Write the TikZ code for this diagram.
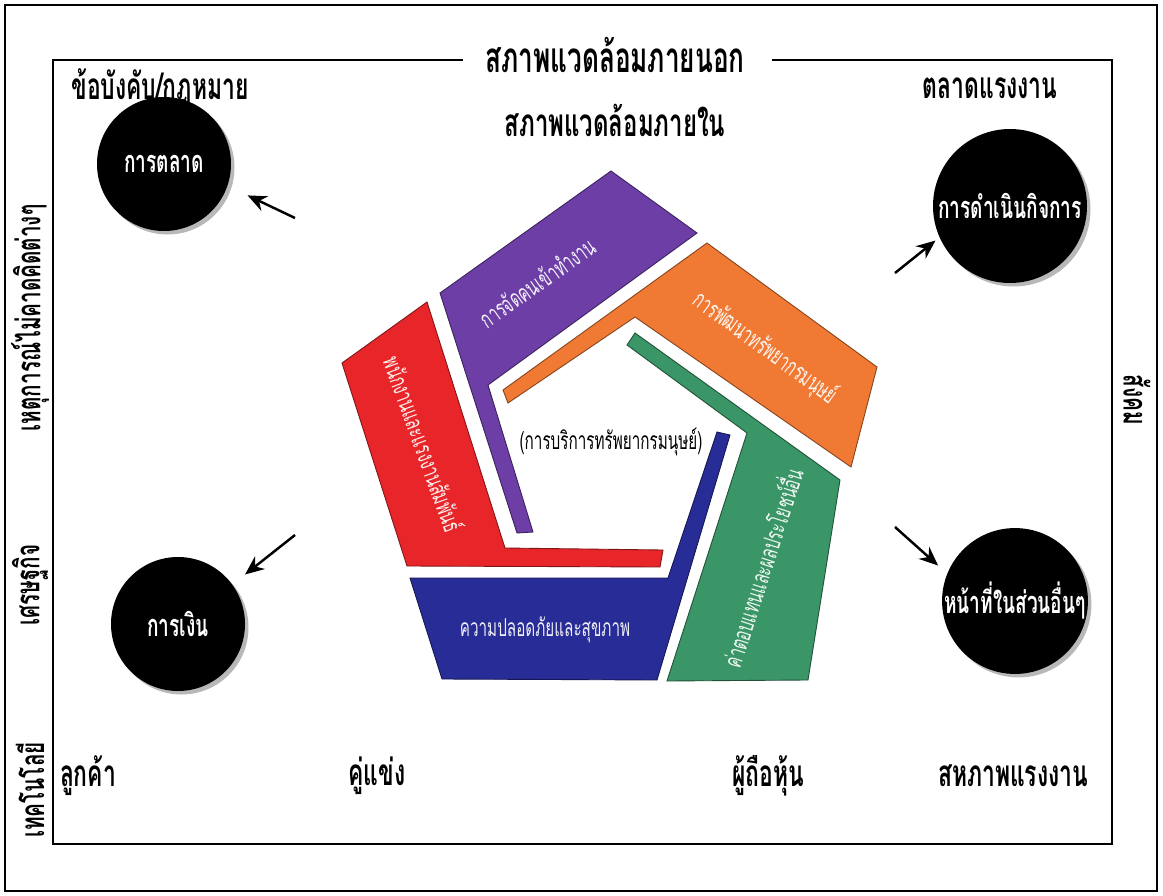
\documentclass[tikz,border=0pt]{standalone}
\usepackage{fontspec}
\newfontfamily\thaicond[Script=Thai,FakeStretch=0.72]{Loma}
\newfontfamily\thainarrow[Script=Thai,FakeStretch=0.62]{Loma}
\usetikzlibrary{positioning,arrows.meta,shadows}

\definecolor{bandpurple}{RGB}{108,62,166}
\definecolor{bandorange}{RGB}{240,122,52}
\definecolor{bandred}{RGB}{232,38,42}
\definecolor{bandblue}{RGB}{40,44,150}
\definecolor{bandgreen}{RGB}{58,150,102}

\newcommand\lblfont{\thainarrow\bfseries\fontsize{21}{24}\selectfont}
\newcommand\discfont{\thainarrow\bfseries\fontsize{17.5}{20}\selectfont}
\newcommand\bandfont{\thainarrow\fontsize{14}{16}\selectfont}

\begin{document}
\begin{tikzpicture}[x=0.2mm,y=-0.2mm,>={Stealth[length=3.8mm,width=3.2mm]},
  lbl/.style={inner sep=1pt,font=\lblfont},
  sidelbl/.style={inner sep=1pt,font=\thainarrow\bfseries\fontsize{19}{22}\selectfont},
  title/.style={inner sep=1pt,font=\thainarrow\bfseries\fontsize{#1}{26}\selectfont},
  disc/.style={circle,fill=black,text=white,inner sep=0pt,minimum size=#1*0.2mm,
    font=\discfont,drop shadow={shadow xshift=0.7mm,shadow yshift=-0.7mm,fill=black!28,opacity=1}},
  band/.style={fill=#1,draw=#1!55!black,line width=0.5pt},
  bandtxt/.style={text=white!92!#1,inner sep=0pt,font=\bandfont},
  pointer/.style={->,line width=1.4pt}]
  \useasboundingbox (0,0) rectangle (1163,896);
  \fill[white] (0,0) rectangle (1163,896);

  % frames
  \draw[line width=1pt] (5,5) rectangle (1157,891);
  \node[title=24] (ext) at (615,55) {สภาพแวดล้อมภายนอก};
  \draw[line width=1.6pt] ([xshift=-4mm]ext.west |- 0,60) -- (53,60) -- (53,844)
    -- (1112,844) -- (1112,60) -- ([xshift=5mm]ext.east |- 0,60);
  \node[title=22,below=5.5mm of ext] (int) {สภาพแวดล้อมภายใน};

  % outside labels
  \node[lbl] (law) at (160,88) {ข้อบังคับ/กฎหมาย};
  \node[lbl] (lab) at (990,88) {ตลาดแรงงาน};
  \node[sidelbl,rotate=90] (unx) at (30,318) {เหตุการณ์ไม่คาดคิดต่างๆ};
  \node[sidelbl,rotate=90] (eco) at (30,585) {เศรษฐกิจ};
  \node[sidelbl,rotate=90] (tec) at (30,790) {เทคโนโลยี};
  \node[sidelbl,rotate=-90] (soc) at (1137,400) {สังคม};
  \node[lbl] (cus) at (88,776) {ลูกค้า};
  \node[lbl] (com) at (377,776) {คู่แข่ง};
  \node[lbl] (shr) at (768,776) {ผู้ถือหุ้น};
  \node[lbl] (uni) at (1013,776) {สหภาพแรงงาน};

  % functions
  \node[disc=134] (mkt) at (164,164) {การตลาด};
  \node[disc=134] (fin) at (178,624) {การเงิน};
  \node[disc=154] (ops) at (1010,206) {การดำเนินกิจการ};
  \node[disc=142] (oth) at (1015,601) {หน้าที่ในส่วนอื่นๆ};

  % pentagon
  \filldraw[band=bandpurple] (440,293) -- (611,171) -- (697,233) -- (488,385)
    -- (533,532) -- (517,533) -- cycle;
  \filldraw[band=bandorange] (707,243) -- (877,367) -- (851,467) -- (635,317)
    -- (508,403) -- (503,390) -- cycle;
  \filldraw[band=bandgreen] (635,333) -- (840,480) -- (808,680) -- (667,681)
    -- (747,433) -- (627,345) -- cycle;
  \filldraw[band=bandblue] (410,578) -- (668,578) -- (717,432) -- (730,435)
    -- (657,680) -- (442,679) -- cycle;
  \filldraw[band=bandred] (342,363) -- (427,302) -- (505,548) -- (663,550)
    -- (660,567) -- (407,566) -- cycle;
  \node[bandtxt=bandpurple,rotate=35] (hire) at (537,282) {การจัดคนเข้าทำงาน};
  \node[bandtxt=bandorange,rotate=-36] (dev) at (765,348) {การพัฒนาทรัพยากรมนุษย์};
  \node[bandtxt=bandred,rotate=-70] (rel) at (424,444) {พนักงานและแรงงานสัมพันธ์};
  \node[bandtxt=bandblue] (saf) at (545,630) {ความปลอดภัยและสุขภาพ};
  \node[bandtxt=bandgreen,rotate=72] (pay) at (760,567) {ค่าตอบแทนและผลประโยชน์อื่น};
  \node[font=\thainarrow\fontsize{14}{16}\selectfont] (hrs) at (611,442) {(การบริการทรัพยากรมนุษย์)};

  % pointers
  \coordinate (mkt-t) at (295,218);
  \coordinate (fin-t) at (295,535);
  \coordinate (ops-t) at (895,273);
  \coordinate (oth-t) at (895,527);
  \path[pointer]
    (mkt-t) edge[shorten >=4.4mm] (mkt.-19)
    (fin-t) edge[shorten >=3.2mm] (fin.36)
    (ops-t) edge[shorten >=1mm] (ops.204)
    (oth-t) edge[shorten >=2.4mm] (oth.158);
\end{tikzpicture}
\end{document}
